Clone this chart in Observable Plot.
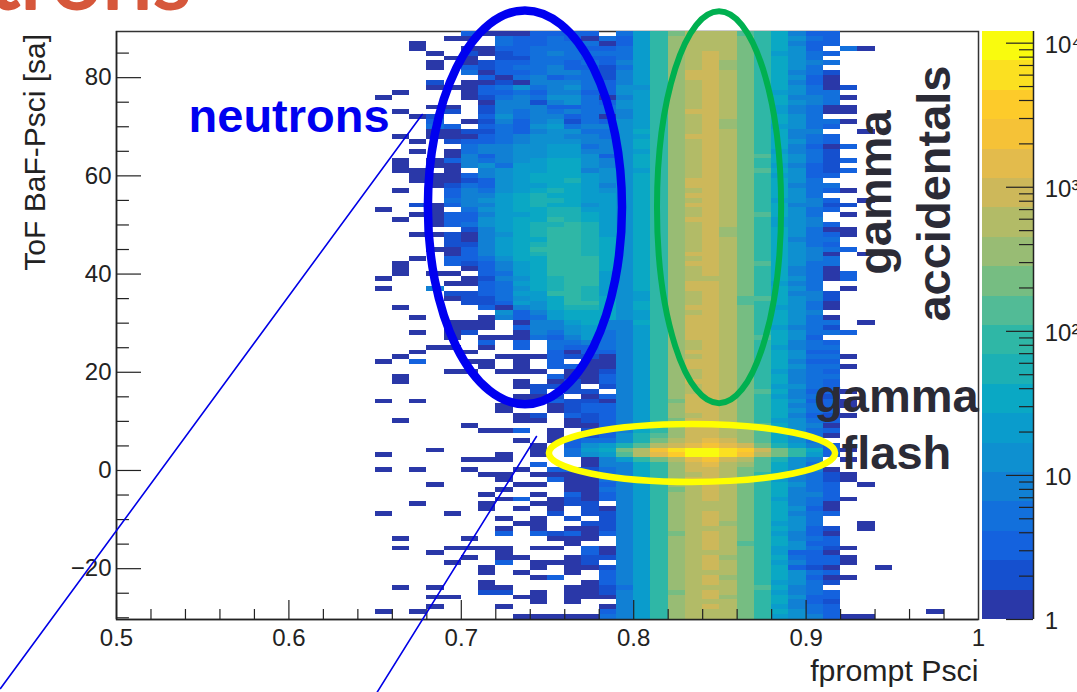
<!DOCTYPE html>
<html><head><meta charset="utf-8">
<script src="https://cdn.jsdelivr.net/npm/d3@7"></script>
<script src="https://cdn.jsdelivr.net/npm/@observablehq/plot@0.6"></script>
<style>
html,body{margin:0;padding:0;background:#fff;overflow:hidden;width:1077px;height:692px;position:relative}
svg{position:absolute;left:0;top:0;background:transparent!important;overflow:hidden}
</style></head><body>
<script>
// Colour bands of the palette, from the lowest (1 count) to the highest.
const palette = ["#2a38a8","#1550cf","#1462de","#1270dc","#1180d4","#0e90d0","#0a9ccc","#0aa8c4","#1cb0b4","#2fb7a6","#52bb96","#76bd82","#98bc74","#b2bb67","#cdb85a","#e3bb4c","#f5c237","#fdcb2a","#fbe021","#f9fb0e"];
const levelCodes = "123456789abcdefghijk";
const binLow = 0.65, binWidth = 0.01, topEdge = 89.4, rowHeight = 119.75 / 120;

// Band read for each row (top to bottom), bins 0.65 to 0.78.
const sparseBins = [
".....31113333.","....11.4334314","..1....4334441","..1..113344433","...1.212345444","....11.2244433","...1.123344343","...1.323445332",".....413345542","......31453442",
"...2.112155543","...11134645643",".1...133435533","1....124546641","......15525643","...11.25553344",".1..2.25454544","..12..36455341","...3.125356243","...43.34367455",
"...11224356644",".1.11134566554","..1.2334566655",".....455667745","..1.1455667755","....1535667763",".1.13545678865",".1.11564778865",".11.1.56778856","..111356788876",
"..111236788976","...12436778875",".1..3546789876","....3557898877","....4567899877","..213557898867","1..1.467889977","..113357789987",".1.1336788a987","...13467899a97",
".....25789aa97","..11215689aa97","....215788aa98","....225789aa98","...113578aaa98","....135789aa98","..1.334688aaa8",".1..323578aaa8",".1...13578aaa8",".1.11.3478aaa7",
"1....125689aa7","....1134789aa7","1..5..34689a97","....223477aa97","....1224678a98",".....223768aa8",".1....31568998",".......6357888","..1...15347888","....111.155785",
"....111.355675","..1.12..154674","....1.11143574","......3.3.4454","...11.1.3.4334","..1..1....3133",".1.....1113221","1.3..11.1.3.11","......1.1.3311","....11.111.112",
".1........3113",".1......1.1213","........1222.2",".........2.22.","........112.13","1.1.....113221",".......1..1233",".......1..1233","........12.323",".1......11.123",
".....1.....113","......113.1.23","..........1.23","........1.1344",".........1.367","...1.....1.478","1......1.1.467",".....111....15",".........3..15","1.1..1..1.3324",
"......11.11114",".......1..3114","...1....11.113",".......1...114","......1..1.313",".......13.1213","..1...1..1122.","......1.1.1.21","1...1.....2.22",".......1.1.2.2",
"........11..22",".......1.1.112",".......3.32313",".1...1....111.","...........1..",".1..1111.11.31","...1...1....31",".....1.11..122","....1..3.1112.","......1..1.112",
"......1.1..1.3",".........13..3","......1.....13",".1.1..11...112","......22.1.112","...11...11.111",".........1.1..","...1...1.....1","1.1..........3","........111114"];

// Band read for each row (top to bottom), bins 0.79 to 0.91.
const coreBins = [
"47aceeeba8533","37adeeeca8643","37adeeeca8533","47adeeeca863.","47adefeca7643","47adefeca864.","57adefdca8654","47adefdca864.","57adffeca8542","57adffeca8631",
"57adefeca8531","66adefeca8641","67adefeca7644","57adefeca8554","67adefeca8654","67adefeca7541","57adffeca7541","57adefeca864.","67adefdca8644","67adefdca7643",
"68adefeca855.","67adffeca8543","68adefeca8643","68adefeca8531","67adefeca7542","68adefecb8642","68adefeca8642","68adefeca7532","67adefecb8632","68adefeca7633",
"68adffeca864.","68adffeca8544","68adefeca8643","68adffeca864.","68adefeca7653","68adffeca8552","68adefeca8643","68adefecb864.","68adffeca765.","68adefeca7653",
"68adefdca8641","68adefdca8643","68adefeca8544","68adefeca8643","68adefeca8654","68adffeca8651","68adefeca8654","68adffecb8644","68adefeca8541","68adefeca8541",
"68adeeeca8641","68adffeca754.","68adffeca864.","67adefeca8552","67adefebb8652","68adefeba8641","68adffeca7641","67adefeca865.","67adffeca8641","58adffeca8644",
"57adffeca7542","57adffeca8644","57adffecb863.","57adefeca8543","57adefeca7544","57adffeca8633","57adefeca8644","57adffeca8533","57adffeca8644","57adefeca7543",
"57adefeca8544","57adffeca8543","57adefeca7643","57adefecb8533","57adffeca7542","57acffeca8633","57adffeca8543","57adffeca8643","57adefeca8532","57acffeca7643",
"58acffecb8651","58adffedb8643","69bdffedb8641","69cefgfdb864.","9befghgfc9753","cehjkkjifca83","begikkjheca73","7aceghfeb965.","58adfgedb864.","58adffecb8651",
"58adefeca8542","57adffeca7542","57adefeca8643","57acefeca8543","57adefeca8553","57adefeca7543","57adeeeca8541","57adeeeca8631","57adefeca8543","57adefeca864.",
"57adefdca764.","57adeeeca8632","57acefeca7531","57adefeca8543","57adefeba8633","57adefeca7642","57adeeeca7331","57adefdca8433","57adefeca7533","57adefeca8321",
"57adeeeca8643","57adefdca8631","57adefeca7642","47adeeecb854.","57acefeca7543","57adefdca8633","57adeeeca8532","57adefeca7543","57adeeeca8643","57adeeeca7653"];

// Isolated cells on the right: row from top, bin low edge, band.
const tailRow = [3,3,11,13,15,16,18,20,23,26,28,32,34,35,37,40,41,44,45,49,50,52,59,61,66,68,73,75,76,78,85,87,90,91,92,95,100,101,105,107,108,109,111,118,119,119];
const tailBin = [.92,.93,.92,.92,.92,.92,.92,.93,.92,.92,.92,.92,.93,.92,.92,.92,.92,.92,.93,.92,.92,.92,.93,.92,.92,.92,.92,.92,.92,.92,.92,.92,.92,.92,.93,.92,.93,.93,.92,.92,.92,.94,.92,.97,.92,.93];
const tailLevel = [4,1,2,1,1,1,1,1,3,3,3,1,1,2,1,1,1,3,1,3,3,1,1,3,1,1,1,1,1,1,1,1,1,1,1,1,1,1,1,1,1,1,1,1,1,1];

// Axis ticks
const xMajor = [0.5,0.6,0.7,0.8,0.9,1];
const xMinor = [0.52,0.54,0.56,0.58,0.62,0.64,0.66,0.68,0.72,0.74,0.76,0.78,0.82,0.84,0.86,0.88,0.92,0.94,0.96,0.98];
const yMajor = [-20,0,20,40,60,80];
const yMinor = [-30,-25,-15,-10,-5,5,10,15,25,30,35,45,50,55,65,70,75,85];
const barMajor = [1,10,100,1000,10000];
const barMinor = [2,3,4,5,6,7,8,9,20,30,40,50,60,70,80,90,200,300,400,500,600,700,800,900,2000,3000,4000,5000,6000,7000,8000,9000];
const barLabels = ["1","10","10²","10³","10⁴"];

// Annotations, in data units of the main plot
const ellipses = [
 {cx:0.7372, cy:53.5, rx:0.0563, ry:40.1, stroke:"#0000f0", w:8.5},
 {cx:0.8498, cy:53.5, rx:0.0360, ry:39.9, stroke:"#00b050", w:6},
 {cx:0.8341, cy:3.46, rx:0.0830, ry:5.9,  stroke:"#ffff00", w:6.5}
];
const arrows = [
 {x1:0.6773,y1:72.5,x2:0.4327,y2:-44.4},
 {x1:0.7436,y1:6.92,x2:0.6512,y2:-45.15}
];
const labels = [
 {t:"gamma",x:0.9405,y:56.6,c:"#2b2b36",r:-90},
 {t:"accidentals",x:0.9745,y:56.4,c:"#2b2b36",r:-90},
 {t:"gamma",x:0.9524,y:14.9,c:"#2b2b36",r:0},
 {t:"flash",x:0.9524,y:3.46,c:"#2b2b36",r:0}
];

// Build cells
const cells = [];
function addCell(row, low, level){
  cells.push({x1:low, x2:low+binWidth, y1:topEdge-(row+1)*rowHeight, y2:topEdge-row*rowHeight, level});
}
sparseBins.forEach((s,r)=>{[...s].forEach((ch,i)=>{ if(ch!==".") addCell(r, binLow+i*binWidth, levelCodes.indexOf(ch)+1); });});
coreBins.forEach((s,r)=>{[...s].forEach((ch,i)=>{ if(ch!==".") addCell(r, binLow+(14+i)*binWidth, levelCodes.indexOf(ch)+1); });});
tailRow.forEach((r,i)=>addCell(r, tailBin[i], tailLevel[i]));

const FONT = "Liberation Sans, Arial, sans-serif";
const ink = "#222";
const ellipseMark = (index,{x,y}) => {
  const g = d3.create("svg:g").attr("fill","none");
  for (const e of ellipses) {
    g.append("ellipse").attr("cx",x(e.cx)).attr("cy",y(e.cy))
     .attr("rx",Math.abs(x(e.cx+e.rx)-x(e.cx))).attr("ry",Math.abs(y(e.cy+e.ry)-y(e.cy)))
     .attr("stroke",e.stroke).attr("stroke-width",e.w);
  }
  return g.node();
};

const main = Plot.plot({
  width:1077, height:692, marginLeft:116, marginRight:99, marginTop:31, marginBottom:73,
  style:{fontFamily:FONT, fontSize:"24px", color:ink, background:"transparent"},
  x:{domain:[0.5,1], axis:null},
  y:{domain:[topEdge-120*rowHeight, topEdge], axis:null},
  color:{type:"ordinal", domain:d3.range(1,21), range:palette},
  marks:[
    Plot.frame({stroke:"#333", strokeWidth:1.5}),
    Plot.rect(cells,{x1:"x1",x2:"x2",y1:"y1",y2:"y2",fill:"level",shapeRendering:"crispEdges"}),
    Plot.ruleX([0.5],{stroke:ink,strokeWidth:1.5}),
    Plot.ruleY([topEdge-120*rowHeight],{stroke:ink,strokeWidth:1.5}),
    Plot.ruleX(xMajor.slice(0,-1),{x:d=>d,y1:topEdge-120*rowHeight,y2:topEdge-120*rowHeight+3.87,stroke:ink,strokeWidth:1.2}),
    Plot.ruleX(xMinor,{x:d=>d,y1:topEdge-120*rowHeight,y2:topEdge-120*rowHeight+2.04,stroke:ink,strokeWidth:1.2}),
    Plot.ruleY(yMajor,{y:d=>d,x1:0.5,x2:0.5145,stroke:ink,strokeWidth:1.2}),
    Plot.ruleY(yMinor,{y:d=>d,x1:0.5,x2:0.5075,stroke:ink,strokeWidth:1.2}),
    Plot.axisX({ticks:xMajor,tickSize:0,tickPadding:9,tickFormat:d=>String(d),label:null,fontSize:24,fill:ink}),
    Plot.axisY({ticks:yMajor,tickSize:0,tickPadding:5,label:null,fontSize:24,fill:ink}),
    Plot.text(["fprompt Psci"],{x:1,y:-40.9,textAnchor:"end",fontSize:30.3,fill:ink}),
    Plot.text(["ToF BaF-Psci [sa]"],{x:0.4530,y:64.8,rotate:-90,fontSize:30,fill:ink}),
    Plot.text(["trons"],{x:0.5435,y:99.8,textAnchor:"end",fontSize:90,fill:"#d6573b",fontFamily:"Lato",stroke:"#d6573b",strokeWidth:2}),
    Plot.line(arrows.flatMap((a,i)=>[{x:a.x1,y:a.y1,i},{x:a.x2,y:a.y2,i}]),{x:"x",y:"y",z:"i",stroke:"#0000e6",strokeWidth:1.6}),
    ellipseMark,
    Plot.text(["neutrons"],{x:0.5418,y:71.9,textAnchor:"start",fill:"#0000f0",fontWeight:"bold",fontSize:47}),
    Plot.text(labels,{x:"x",y:"y",text:"t",fill:"c",rotate:"r",fontWeight:"bold",fontSize:47})
  ]
});
document.body.appendChild(main);

const barTop = 12050;
const bandEdges = d3.range(0,21).map(i=>Math.pow(barTop,i/20));
const bands = d3.range(0,20).map(i=>({lo:bandEdges[i],hi:bandEdges[i+1],level:i+1}));
const bar = Plot.plot({
  width:1077, height:692, marginLeft:982, marginRight:44, marginTop:31, marginBottom:73,
  style:{fontFamily:FONT, fontSize:"23px", color:ink, background:"transparent"},
  x:{domain:[0,1], axis:null},
  y:{type:"log", domain:[1,barTop], axis:null},
  color:{type:"ordinal", domain:d3.range(1,21), range:palette},
  marks:[
    Plot.rect(bands,{x1:0,x2:1,y1:"lo",y2:"hi",fill:"level",shapeRendering:"crispEdges"}),
    Plot.ruleX([1],{stroke:ink,strokeWidth:1.5}),
    Plot.ruleY(barMajor,{y:d=>d,x1:0.47,x2:1,stroke:ink,strokeWidth:1.2}),
    Plot.ruleY(barMinor,{y:d=>d,x1:0.725,x2:1,stroke:ink,strokeWidth:1.2}),
    Plot.text(barLabels,{x:1.22,y:(d,i)=>barMajor[i],dy:2,textAnchor:"start",fontSize:24,fill:ink})
  ]
});
document.body.appendChild(bar);
</script>
</body></html>
